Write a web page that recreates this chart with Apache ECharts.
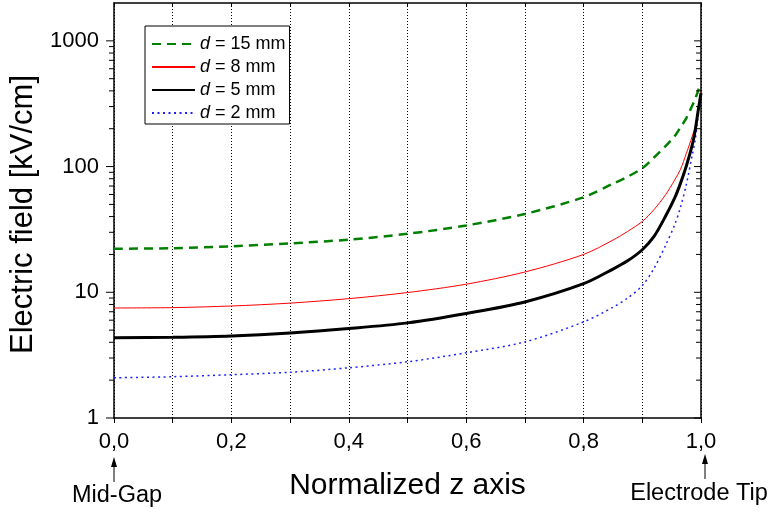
<!DOCTYPE html>
<html>
<head>
<meta charset="utf-8">
<script src="https://cdn.jsdelivr.net/npm/echarts@6/dist/echarts.min.js"></script>
<style>
html,body{margin:0;padding:0;background:#fff;}
#chart{width:771px;height:513px;}
</style>
</head>
<body>
<div id="chart"></div>
<script>
// ---- data ----
const zPos = [0, 0.1, 0.2, 0.3, 0.4, 0.5, 0.6, 0.7, 0.8, 0.85, 0.875, 0.9, 0.92, 0.94, 0.955, 0.965, 0.975, 0.985, 0.99, 0.995, 1.0];
const field15 = [22.2, 22.4, 23.2, 24.5, 26.2, 29.2, 34.0, 42.0, 57.0, 73, 83, 97, 118, 146, 174, 205, 243, 305, 344, 400, 467];
const field8  = [7.5, 7.55, 7.78, 8.2, 8.9, 9.95, 11.6, 14.5, 20.0, 26, 30.5, 36.6, 45.5, 60, 78, 95, 127, 174, 205, 278, 395];
const field5  = [4.34, 4.39, 4.5, 4.75, 5.15, 5.71, 6.78, 8.38, 11.7, 15.3, 17.8, 21.8, 27.8, 40.6, 56, 73.5, 101, 148, 193, 275, 385];
const field2  = [2.09, 2.13, 2.21, 2.31, 2.51, 2.8, 3.3, 4.03, 5.81, 7.6, 9.0, 11.3, 15.5, 23.8, 34.3, 47.3, 72, 123, 162, 250, 370];
const seriesNames = ['d = 15 mm', 'd = 8 mm', 'd = 5 mm', 'd = 2 mm'];
const yMajorTicks = [1, 10, 100, 1000];
const yMinorTicks = [2,3,4,5,6,7,8,9,20,30,40,50,60,70,80,90,200,300,400,500,600,700,800,900];
const xTickLabels = ['0,0', '0,2', '0,4', '0,6', '0,8', '1,0'];

const FONT = 'Liberation Sans, Arial, Helvetica, sans-serif';
const pair = (vals) => zPos.map((z, i) => [z, vals[i]]);

const chart = echarts.init(document.getElementById('chart'), null, {renderer: 'canvas'});

const tickData = yMajorTicks.map(v => [0, v, 1]).concat(yMinorTicks.map(v => [0, v, 0]));

const option = {
  animation: false,
  backgroundColor: '#fff',
  grid: {left: 114, right: 70, top: 3, bottom: 95, containLabel: false},
  legend: {
    data: seriesNames,
    orient: 'vertical',
    left: 145, top: 26,
    padding: [9, 4, 2, 6],
    itemGap: 5,
    itemWidth: 43,
    itemHeight: 18,
    backgroundColor: '#fff',
    borderColor: '#000',
    borderWidth: 1,
    borderRadius: 0,
    selectedMode: false,
    itemStyle: {color: 'rgba(0,0,0,0)', borderWidth: 0, opacity: 0},
    formatter: name => '{i|d}' + name.slice(1),
    textStyle: {
      fontFamily: FONT, fontSize: 18, color: '#000', lineHeight: 18,
      rich: {i: {fontStyle: 'italic', fontFamily: FONT, fontSize: 18, color: '#000', lineHeight: 18}}
    }
  },
  xAxis: [{
    type: 'value', min: 0, max: 1, interval: 0.1,
    position: 'bottom',
    name: 'Normalized z axis', nameLocation: 'middle', nameGap: 53,
    nameTextStyle: {fontFamily: FONT, fontSize: 30, color: '#000'},
    axisLine: {show: true, onZero: false, lineStyle: {color: '#000', width: 1.5}},
    axisTick: {show: true, inside: false, length: 5, lineStyle: {color: '#000', width: 1}},
    axisLabel: {
      fontFamily: FONT, fontSize: 22, color: '#000', margin: 13,
      formatter: v => { const k = Math.round(v * 10); return k % 2 === 0 ? xTickLabels[k / 2] : ''; }
    },
    splitLine: {show: true, lineStyle: {color: '#000', width: 1, type: [1, 2]}}
  }, {
    type: 'value', min: 0, max: 1, interval: 0.1,
    position: 'top',
    axisLine: {show: true, onZero: false, lineStyle: {color: '#000', width: 1.5}},
    axisTick: {show: true, inside: true, length: 4, lineStyle: {color: '#000', width: 1}},
    axisLabel: {show: false},
    splitLine: {show: false}
  }],
  yAxis: [{
    type: 'log', logBase: 10, min: 1, max: 2000,
    position: 'left',
    name: 'Electric field [kV/cm]', nameLocation: 'middle', nameGap: 69,
    nameTextStyle: {fontFamily: FONT, fontSize: 31, color: '#000', padding: [0, 8, 0, 0]},
    axisLine: {show: true, onZero: false, lineStyle: {color: '#000', width: 1.5}},
    axisTick: {show: false},
    axisLabel: {
      fontFamily: FONT, fontSize: 22, color: '#000', margin: 15,
      formatter: v => yMajorTicks.indexOf(Math.round(v)) >= 0 && Math.abs(v - Math.round(v)) < 1e-6 ? String(Math.round(v)) : ''
    },
    splitLine: {show: false},
    minorTick: {show: false}
  }, {
    type: 'log', logBase: 10, min: 1, max: 2000,
    position: 'right',
    axisLine: {show: true, onZero: false, lineStyle: {color: '#000', width: 1.5}},
    axisTick: {show: false},
    axisLabel: {show: false},
    splitLine: {show: false}
  }],
  series: [
    {
      name: seriesNames[0], type: 'line', data: pair(field15), symbol: 'none',
      smooth: 0.3,
      lineStyle: {color: '#008000', width: 2.5, type: [9, 6]},
      itemStyle: {color: '#008000'}, z: 4
    },
    {
      name: seriesNames[1], type: 'line', data: pair(field8), symbol: 'none',
      smooth: 0.3,
      lineStyle: {color: '#ff0000', width: 1},
      itemStyle: {color: '#ff0000'}, z: 3
    },
    {
      name: seriesNames[2], type: 'line', data: pair(field5), symbol: 'none',
      smooth: 0.3,
      lineStyle: {color: '#000000', width: 3},
      itemStyle: {color: '#000000'}, z: 5
    },
    {
      name: seriesNames[3], type: 'line', data: pair(field2), symbol: 'none',
      smooth: 0.3,
      lineStyle: {color: '#2020ff', width: 1.5, type: [2, 3.5]},
      itemStyle: {color: '#2020ff'}, z: 3
    },
    {
      type: 'custom', silent: true, clip: false, z: 6,
      data: tickData,
      renderItem: (params, api) => {
        const v = api.value(1);
        const major = api.value(2) === 1;
        const p = api.coord([0, v]);
        const q = api.coord([1, v]);
        const ll = major ? 8 : 5;
        const rl = major ? 7 : 5;
        return {
          type: 'group',
          children: [
            {type: 'line', shape: {x1: p[0] - ll, y1: p[1], x2: p[0], y2: p[1]}, style: {stroke: '#000', lineWidth: 1}},
            {type: 'line', shape: {x1: q[0] - rl, y1: q[1], x2: q[0], y2: q[1]}, style: {stroke: '#000', lineWidth: 1}}
          ]
        };
      }
    }
  ]
};
chart.setOption(option);

// annotations below the x axis, positioned from the axis scale
const x0 = chart.convertToPixel({xAxisIndex: 0}, 0);
const x1 = chart.convertToPixel({xAxisIndex: 0}, 1);
function arrow(x, tipY, baseY) {
  return [
    {type: 'polygon', shape: {points: [[x, tipY], [x - 3, tipY + 10], [x + 3, tipY + 10]]}, style: {fill: '#000'}},
    {type: 'line', shape: {x1: x, y1: tipY + 8, x2: x, y2: baseY}, style: {stroke: '#000', lineWidth: 1}}
  ];
}
chart.setOption({
  graphic: [
    ...arrow(x0, 457, 482),
    ...arrow(x1 + 4, 454, 479),
    {type: 'text', x: x0 + 3, y: 496, style: {text: 'Mid-Gap', font: '23.5px ' + FONT, fill: '#000', textAlign: 'center', textVerticalAlign: 'middle'}},
    {type: 'text', x: x1 - 2, y: 494, style: {text: 'Electrode Tip', font: '23.5px ' + FONT, fill: '#000', textAlign: 'center', textVerticalAlign: 'middle'}}
  ]
});
</script>
</body>
</html>
